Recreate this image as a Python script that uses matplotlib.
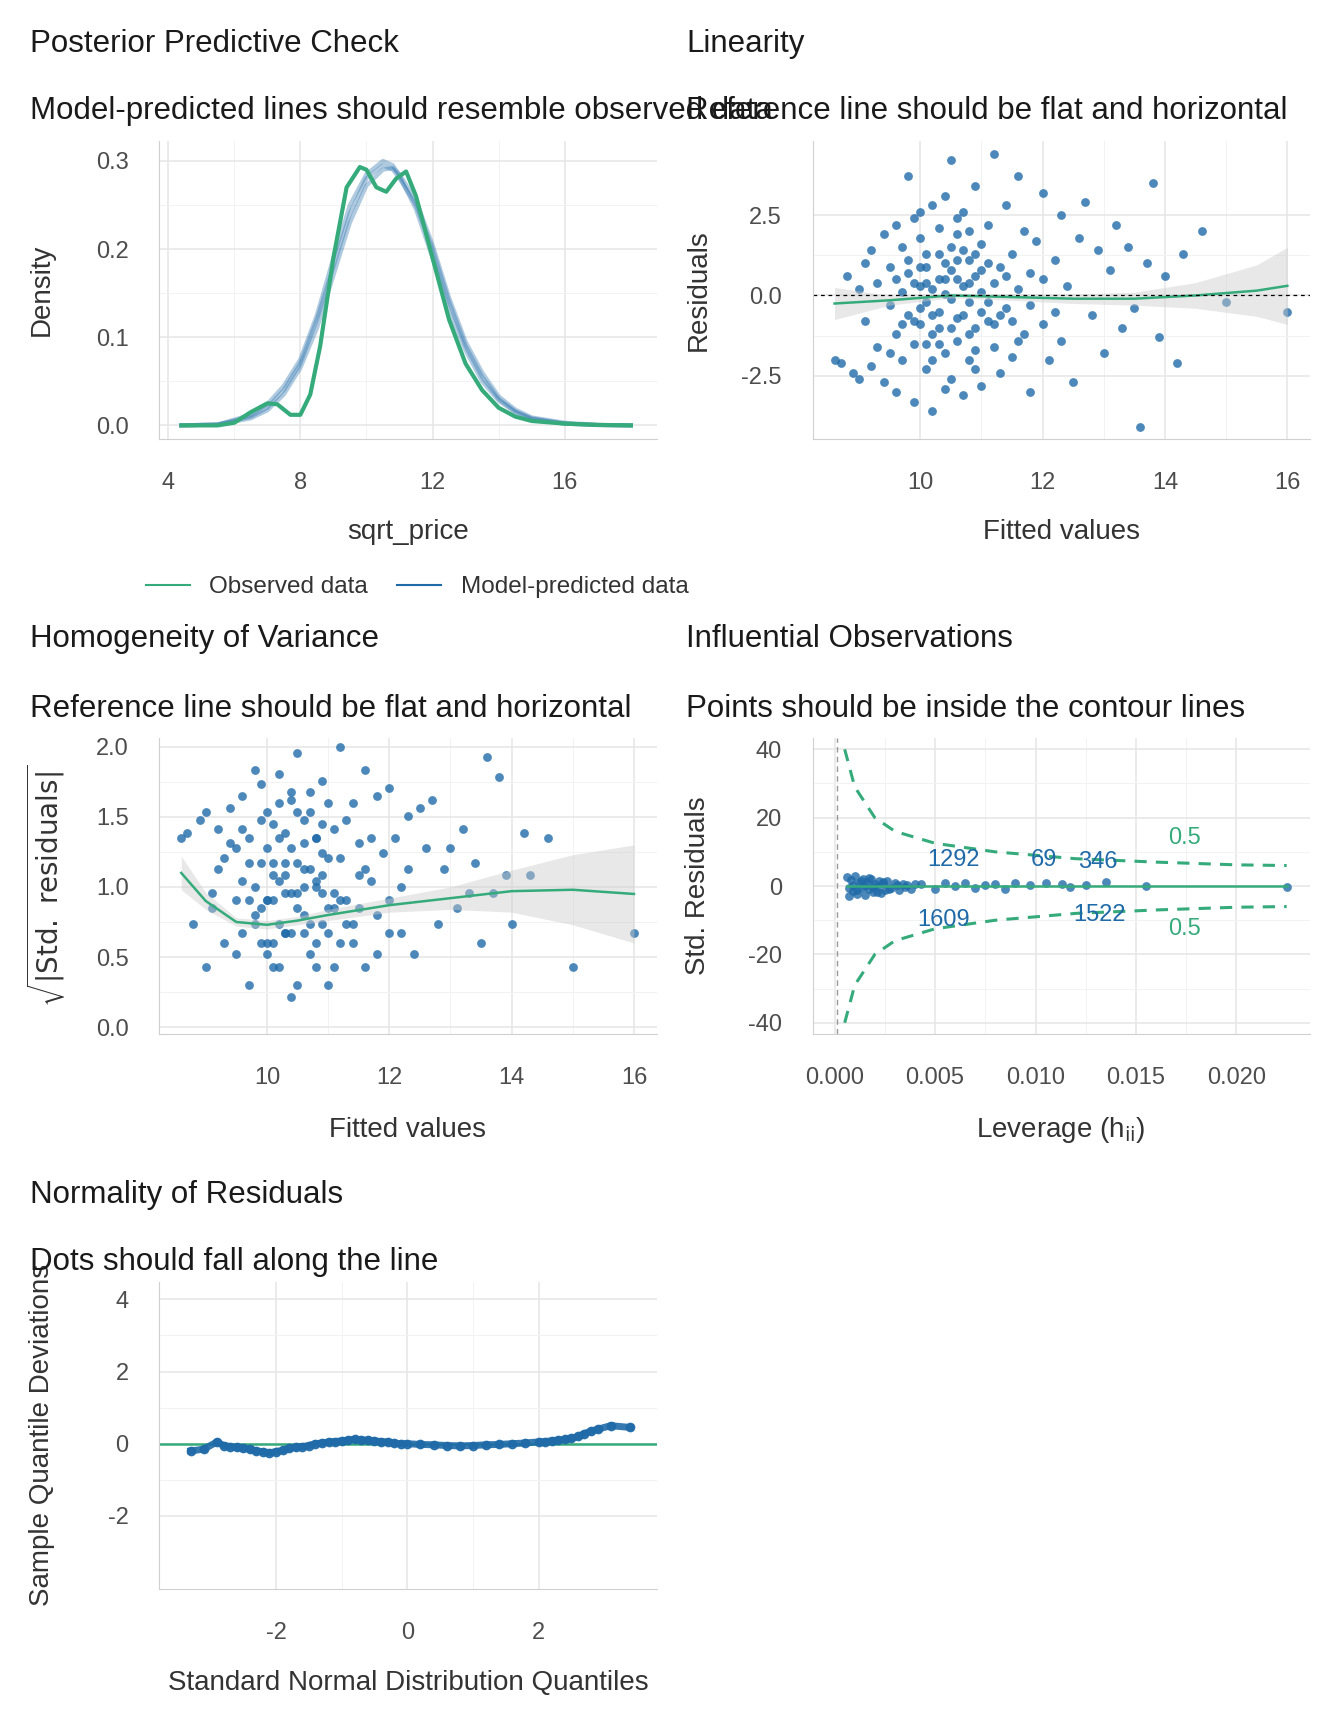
import matplotlib
matplotlib.use("Agg")
import matplotlib.pyplot as plt
import numpy as np

plt.rcParams["font.family"] = ["Liberation Sans", "DejaVu Sans"]
plt.rcParams["axes.unicode_minus"] = False

BLUE = "#1f6aa8"
GREEN = "#35ab7c"
GRID = "#e6e6e6"
TICK = "#4d4d4d"

# posterior predictive check
obs_x = [4.4, 5.5, 6.0, 6.5, 7.0, 7.3, 7.7, 8.0, 8.3, 8.6, 9.0, 9.4, 9.8, 10.0, 10.3, 10.6, 10.9,
         11.2, 11.5, 12.0, 12.5, 13.0, 13.5, 14.0, 14.5, 15.0, 16.0, 17.0, 18.0]
obs_y = [0, 0, 0.003, 0.015, 0.025, 0.024, 0.012, 0.012, 0.035, 0.09, 0.19, 0.27, 0.293, 0.29,
         0.27, 0.265, 0.28, 0.288, 0.26, 0.19, 0.12, 0.07, 0.04, 0.02, 0.01, 0.005, 0.002, 0.0005, 0]
pred_x = [4.4, 5.5, 6.5, 7.0, 7.5, 8.0, 8.5, 9.0, 9.5, 10.0, 10.5, 10.8, 11.0, 11.5, 12.0, 12.5,
          13.0, 13.5, 14.0, 14.5, 15.0, 16.0, 17.0, 18.0]
pred_a = [0, 0.001, 0.01, 0.02, 0.04, 0.07, 0.12, 0.18, 0.24, 0.28, 0.295, 0.29, 0.28, 0.25, 0.20,
          0.14, 0.09, 0.055, 0.03, 0.016, 0.008, 0.002, 0.0005, 0]
pred_b = [0, 0.001, 0.012, 0.024, 0.045, 0.075, 0.125, 0.19, 0.25, 0.285, 0.30, 0.295, 0.283, 0.245,
          0.19, 0.13, 0.085, 0.05, 0.028, 0.015, 0.007, 0.002, 0.0004, 0]
pred_c = [0, 0.001, 0.008, 0.017, 0.035, 0.065, 0.11, 0.17, 0.23, 0.272, 0.29, 0.292, 0.285, 0.255,
          0.205, 0.145, 0.095, 0.06, 0.033, 0.018, 0.009, 0.003, 0.0006, 0]

# residuals vs fitted
fit_res = [(8.6, -2.0), (8.7, -2.1), (8.8, 0.6), (8.9, -2.4), (9.0, 0.2), (9.0, -2.6), (9.1, 1.0),
           (9.1, -0.8), (9.2, -2.2), (9.2, 1.4), (9.3, 0.4), (9.3, -1.6), (9.4, -2.7), (9.4, 1.9),
           (9.5, -0.3), (9.5, 0.9), (9.6, -1.2), (9.6, 2.2), (9.6, -3.0), (9.7, 0.1), (9.7, 1.5),
           (9.7, -2.0), (9.8, 3.7), (9.8, -0.6), (9.8, 0.7), (9.9, -1.5), (9.9, 2.4), (9.9, -3.3),
           (10.0, 0.3), (10.0, -0.9), (10.0, 1.8), (10.1, -2.3), (10.1, 0.9), (10.1, -0.2),
           (10.2, 2.8), (10.2, -1.2), (10.2, -3.6), (10.3, 0.5), (10.3, 1.3), (10.3, -0.5),
           (10.4, -1.8), (10.4, 3.1), (10.4, 0.05), (10.5, 4.2), (10.5, -2.6), (10.5, 0.8),
           (10.6, -0.7), (10.6, 1.9), (10.6, -1.4), (10.7, 0.3), (10.7, 2.6), (10.7, -3.1),
           (10.8, -0.2), (10.8, 1.1), (10.8, -2.0), (10.9, 3.4), (10.9, 0.6), (10.9, -1.0),
           (11.0, -2.8), (11.0, 1.6), (11.0, 0.1), (11.1, 2.2), (11.1, -0.8), (11.2, 4.4),
           (11.2, -1.6), (11.3, 0.9), (11.3, -2.4), (11.4, 2.8), (11.4, -0.4), (11.5, 1.3),
           (11.5, -1.9), (11.6, 3.7), (11.6, 0.2), (11.7, -1.2), (11.7, 2.0), (11.8, -3.0),
           (11.8, 0.7), (11.9, 1.7), (12.0, -0.9), (12.0, 3.2), (12.1, -2.0), (12.2, 1.1),
           (12.3, 2.5), (12.3, -1.4), (12.4, 0.3), (12.5, -2.7), (12.6, 1.8), (12.7, 2.9),
           (12.8, -0.6), (12.9, 1.4), (13.0, -1.8), (13.1, 0.8), (13.2, 2.2), (13.3, -1.0),
           (13.4, 1.5), (13.5, -0.4), (13.6, -4.1), (13.7, 1.0), (13.8, 3.5), (13.9, -1.3),
           (14.0, 0.6), (14.2, -2.1), (14.3, 1.3), (14.6, 2.0), (15.0, -0.2), (16.0, -0.5),
           (9.9, 0.4), (10.0, -0.4), (10.1, 1.3), (10.2, 0.2), (10.3, -1.0), (10.4, 1.0),
           (10.5, -0.1), (10.5, 1.5), (10.6, 0.5), (10.7, -0.6), (10.8, 0.4), (10.9, -1.7),
           (11.0, 0.8), (11.1, -0.2), (10.2, -2.0), (10.4, -2.9), (10.6, 2.4), (10.8, 2.0),
           (10.3, 2.1), (10.9, -2.3), (10.0, 2.6), (11.2, 0.4), (11.3, -0.6), (10.1, -1.5),
           (9.8, 1.1), (9.9, -0.8), (10.0, 0.9), (10.1, 0.4), (10.2, -0.6), (10.3, -1.5),
           (10.4, 0.5), (10.5, -1.0), (10.6, 1.1), (10.7, 1.4), (10.8, -1.2), (10.9, 1.3),
           (11.0, -0.5), (11.1, 1.0), (11.2, -0.9), (11.4, 0.6), (11.5, -0.8), (9.6, 0.5),
           (9.7, -0.9), (9.5, -1.8), (11.6, -1.4), (11.8, -0.3), (12.0, 0.5), (12.2, -0.5)]
fitted = [p[0] for p in fit_res]
resid = [p[1] for p in fit_res]
lin_x = [8.6, 9.5, 10.5, 11.5, 12.5, 13.5, 14.5, 15.5, 16.0]
lin_y = [-0.25, -0.15, 0.0, -0.05, -0.1, -0.1, 0.0, 0.15, 0.3]
lin_se = [0.5, 0.15, 0.08, 0.1, 0.15, 0.2, 0.4, 0.8, 1.2]
resid_sd = 1.1

# homogeneity smooth
hom_x = [8.6, 9.0, 9.5, 10.0, 10.5, 11.0, 12.0, 13.0, 14.0, 15.0, 16.0]
hom_y = [1.1, 0.9, 0.75, 0.73, 0.76, 0.8, 0.87, 0.92, 0.97, 0.98, 0.95]
hom_se = [0.12, 0.06, 0.03, 0.03, 0.03, 0.04, 0.05, 0.08, 0.15, 0.25, 0.35]

# influential observations
lev = [0.0006, 0.0007, 0.0008, 0.0009, 0.001, 0.0011, 0.0012, 0.0013, 0.0014, 0.0015, 0.0016,
       0.0017, 0.0018, 0.0019, 0.002, 0.0021, 0.0022, 0.0023, 0.0024, 0.0025, 0.0026, 0.0028,
       0.003, 0.0032, 0.0034, 0.0036, 0.0038, 0.004, 0.0007, 0.0009, 0.0011, 0.0013, 0.0015,
       0.0017, 0.0019, 0.0021, 0.0024, 0.0027, 0.0031, 0.0035, 0.0043, 0.005, 0.0055, 0.006,
       0.0065, 0.007, 0.0075, 0.008, 0.0085, 0.009, 0.0097, 0.0105, 0.0113, 0.0117, 0.0125,
       0.0135, 0.0155, 0.0225]
std_res = [2.5, -2.8, 1.8, -1.5, 2.9, -2.2, 0.9, -0.7, 2.0, -2.6, 1.2, -1.0, 2.2, -1.8, 0.5,
           -0.3, 1.6, -2.0, 0.8, -1.2, 1.4, -0.6, 1.0, -1.3, 0.7, 0.2, -0.8, 0.6, -0.5, 0.4,
           -1.1, 1.5, 0.1, 2.4, -0.2, -1.7, 1.1, -0.9, 0.3, -0.4, 0.5, -1.0, 0.8, 0.0, 1.0, -0.5,
           0.3, 0.5, -0.8, 0.8, 0.2, 1.0, 0.5, -0.3, 0.4, 1.2, 0.0, -0.3]
cook_h = [0.0005, 0.001, 0.002, 0.003, 0.005, 0.008, 0.012, 0.016, 0.02, 0.0225]
cook_y = [40, 29, 20, 16, 12.5, 10, 8, 7, 6.2, 6]
lev_ids = ["1292", "69", "346", "1609", "1522"]
lev_id_x = [0.0059, 0.0104, 0.0131, 0.0054, 0.0132]
lev_id_y = [7.5, 7.5, 7.0, -10.0, -8.5]

# detrended qq
qq_x = [-3.3, -3.1, -2.9, -2.8, -2.7, -2.6, -2.5, -2.4, -2.3, -2.2, -2.1, -2.0, -1.9, -1.8,
        -1.7, -1.6, -1.5, -1.4, -1.3, -1.2, -1.1, -1.0, -0.9, -0.8, -0.7, -0.6, -0.5, -0.4,
        -0.3, -0.2, -0.1, 0.0, 0.2, 0.4, 0.6, 0.8, 1.0, 1.2, 1.4, 1.6, 1.8, 2.0, 2.1, 2.2, 2.3,
        2.4, 2.5, 2.6, 2.7, 2.8, 2.9, 3.1, 3.4]
qq_y = [-0.2, -0.15, 0.05, -0.05, -0.08, -0.1, -0.12, -0.15, -0.2, -0.22, -0.25, -0.22, -0.18,
        -0.12, -0.1, -0.08, -0.05, 0.0, 0.02, 0.05, 0.06, 0.08, 0.1, 0.12, 0.1, 0.1, 0.08, 0.06,
        0.05, 0.02, 0.0, 0.0, -0.02, -0.03, -0.05, -0.06, -0.05, -0.03, -0.02, 0.0, 0.02, 0.05,
        0.06, 0.08, 0.1, 0.12, 0.15, 0.2, 0.28, 0.35, 0.4, 0.5, 0.45]


def style(ax, xlim, ylim, xticks, yticks):
    ax.set_xlim(*xlim)
    ax.set_ylim(*ylim)
    ax.set_xticks(xticks)
    ax.set_yticks(yticks)
    xm = np.array(xticks)
    ym = np.array(yticks)
    ax.set_xticks(list((xm[:-1] + xm[1:]) / 2), minor=True)
    ax.set_yticks(list((ym[:-1] + ym[1:]) / 2), minor=True)
    ax.grid(True, which="major", color=GRID, lw=1.1)
    ax.grid(True, which="minor", color="#f2f2f2", lw=0.7)
    ax.set_axisbelow(True)
    for s in ["top", "right"]:
        ax.spines[s].set_visible(False)
    for s in ["left", "bottom"]:
        ax.spines[s].set_color("#d0d0d0")
    ax.tick_params(which="both", length=0, labelsize=17, labelcolor=TICK)
    ax.tick_params(axis="x", pad=24)
    ax.tick_params(axis="y", pad=22)


fig = plt.figure(figsize=(13.44, 17.28), dpi=100)
W, H = 1224, 1568


def axes_at(x0, y0, x1, y1):
    return fig.add_axes([x0 / W, 1 - y1 / H, (x1 - x0) / W, (y1 - y0) / H])


def labels(ax, xl, yl, xy, yx):
    # xy, yx: label centre positions in reference pixels
    pos = ax.get_position()
    ax.set_xlabel(xl, **LAB)
    ax.set_ylabel(yl, **LAB)
    ax.xaxis.label.set_va("center")
    ax.yaxis.label.set_va("center")
    ax.xaxis.set_label_coords(0.5, ((1 - xy / H) - pos.y0) / pos.height)
    ax.yaxis.set_label_coords((yx / W - pos.x0) / pos.width, 0.5)


def titles(x, ty, sy, t, s):
    fig.text(x / W, 1 - ty / H, t, fontsize=22.5, va="center", color="#1a1a1a")
    fig.text(x / W, 1 - sy / H, s, fontsize=22.5, va="center", color="#1a1a1a")


LAB = dict(fontsize=20, color="#333333")

# panel 1
ax = axes_at(145, 128, 598, 398)
style(ax, (3.73, 18.78), (-0.015, 0.3225), [4, 8, 12, 16], [0.0, 0.1, 0.2, 0.3])
for pr in [pred_a, pred_b, pred_c]:
    ax.plot(pred_x, pr, color=BLUE, lw=3, alpha=0.35)
ax.plot(obs_x, obs_y, color=GREEN, lw=3)
labels(ax, "sqrt_price", "Density", 483, 38)
titles(27, 40, 101, "Posterior Predictive Check", "Model-predicted lines should resemble observed data")
fig.legend(handles=[plt.Line2D([], [], color=GREEN, lw=1.5), plt.Line2D([], [], color=BLUE, lw=1.5)],
           labels=["Observed data", "Model-predicted data"], ncol=2, frameon=False,
           loc="center", bbox_to_anchor=(380 / W, 1 - 533 / H), fontsize=17.5,
           handlelength=1.8, columnspacing=1.2, labelcolor="#333333")

# panel 2
ax = axes_at(740, 128, 1193, 398)
style(ax, (8.24, 16.37), (-4.45, 4.8), [10, 12, 14, 16], [-2.5, 0.0, 2.5])
ax.scatter(fitted, resid, s=40, color=BLUE, alpha=0.8, lw=0)
lo = [a - b for a, b in zip(lin_y, lin_se)]
hi = [a + b for a, b in zip(lin_y, lin_se)]
ax.fill_between(lin_x, lo, hi, color="#cccccc", alpha=0.45, lw=0)
ax.plot(lin_x, lin_y, color=GREEN, lw=1.8)
ax.axhline(0, color="black", ls=(0, (3, 3)), lw=0.9)
labels(ax, "Fitted values", "Residuals", 483, 636)
titles(625, 40, 101, "Linearity", "Reference line should be flat and horizontal")

# panel 3
ax = axes_at(145, 670, 598, 938)
style(ax, (8.24, 16.37), (-0.047, 2.06), [10, 12, 14, 16], [0.0, 0.5, 1.0, 1.5, 2.0])
ax.scatter(fitted, np.sqrt(np.abs(np.array(resid)) / resid_sd), s=40, color=BLUE, alpha=0.8, lw=0)
lo = [a - b for a, b in zip(hom_y, hom_se)]
hi = [a + b for a, b in zip(hom_y, hom_se)]
ax.fill_between(hom_x, lo, hi, color="#cccccc", alpha=0.45, lw=0)
ax.plot(hom_x, hom_y, color=GREEN, lw=1.8)
labels(ax, "Fitted values", r"$\sqrt{|\mathrm{Std.\ residuals}|}$", 1025, 42)
titles(27, 580, 643, "Homogeneity of Variance", "Reference line should be flat and horizontal")

# panel 4
ax = axes_at(740, 670, 1193, 938)
style(ax, (-0.0011, 0.02366), (-43.2, 43.2), [0.0, 0.005, 0.01, 0.015, 0.02], [-40, -20, 0, 20, 40])
ax.set_xticklabels(["0.000", "0.005", "0.010", "0.015", "0.020"])
ax.axvline(0.0001, color="#999999", ls=(0, (4, 3)), lw=1)
ax.plot(cook_h, cook_y, color=GREEN, ls=(0, (4, 3)), lw=2.2)
ax.plot(cook_h, [-v for v in cook_y], color=GREEN, ls=(0, (4, 3)), lw=2.2)
ax.scatter(lev, std_res, s=40, color=BLUE, alpha=0.8, lw=0)
ax.plot([min(lev), max(lev)], [0, 0], color=GREEN, lw=1.8)
for t, x, y in zip(lev_ids, lev_id_x, lev_id_y):
    ax.text(x, y, t, color=BLUE, fontsize=17, ha="center", va="center")
ax.text(0.0174, 14, "0.5", color=GREEN, fontsize=17, ha="center", va="center")
ax.text(0.0174, -12.5, "0.5", color=GREEN, fontsize=17, ha="center", va="center")
labels(ax, r"Leverage (h$_{\mathrm{ii}}$)", "Std. Residuals", 1025, 636)
titles(625, 580, 643, "Influential Observations", "Points should be inside the contour lines")

# panel 5
ax = axes_at(145, 1163, 598, 1442)
style(ax, (-3.78, 3.80), (-4.03, 4.49), [-2, 0, 2], [-2, 0, 2, 4])
ax.axhline(0, color=GREEN, lw=1.8)
ax.plot(qq_x, qq_y, color=BLUE, lw=5, alpha=0.9, marker="o", ms=6)
labels(ax, "Standard Normal Distribution Quantiles", "Sample Quantile Deviations", 1527, 38)
titles(27, 1084, 1145, "Normality of Residuals", "Dots should fall along the line")

fig.savefig("out.png", dpi=100, facecolor="white")
